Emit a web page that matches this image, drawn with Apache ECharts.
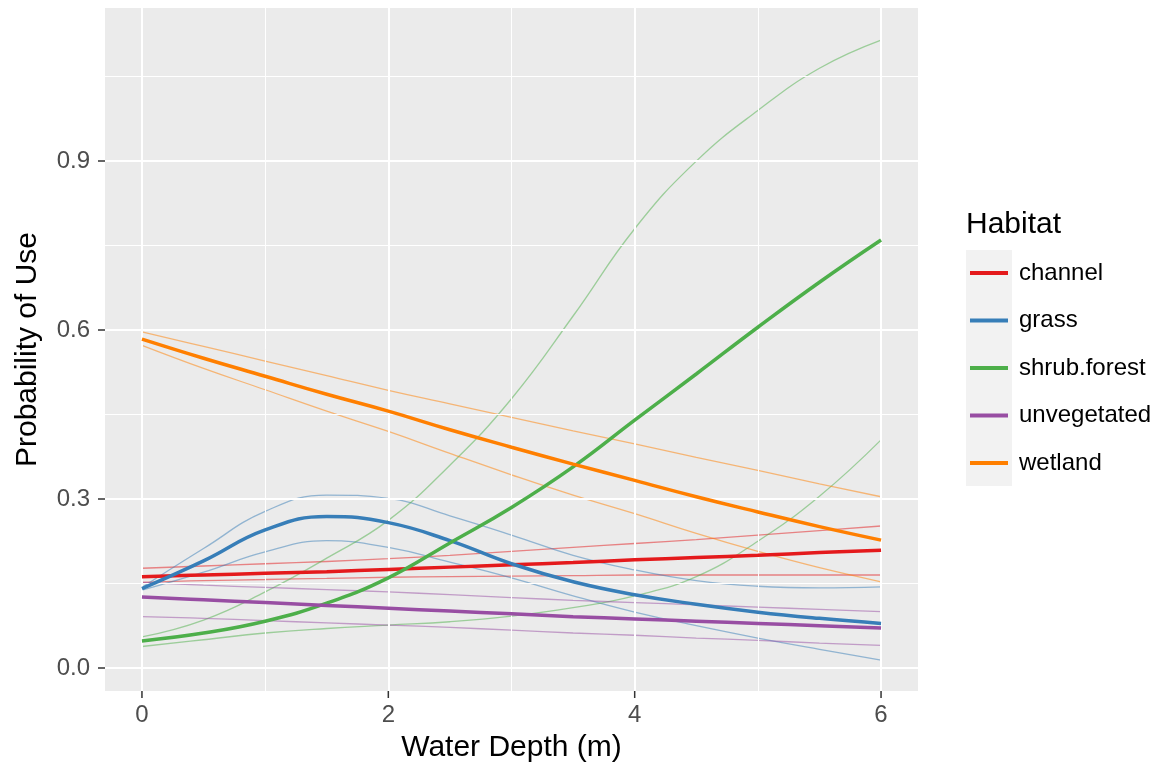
<!DOCTYPE html>
<html>
<head>
<meta charset="utf-8">
<script src="https://cdn.jsdelivr.net/npm/echarts@6/dist/echarts.min.js"></script>
<style>html,body{margin:0;padding:0;background:#fff}#c{width:1157px;height:769px}</style>
</head>
<body>
<div id="c"></div>
<script>
// ---- data ----
const depth = [0,0.5,1,1.5,2,2.5,3,3.5,4,4.5,5,5.5,6];
const habitats = ['channel','grass','shrub.forest','unvegetated','wetland'];
const colors = ['#E41A1C','#377EB8','#4DAF4A','#984EA3','#FF7F00'];

const channelFit   = [0.162,0.165,0.168,0.171,0.175,0.179,0.183,0.187,0.192,0.196,0.200,0.205,0.209];
const channelUpper = [0.177,0.181,0.185,0.189,0.194,0.200,0.207,0.214,0.221,0.228,0.236,0.244,0.252];
const channelLower = [0.152,0.155,0.157,0.159,0.161,0.162,0.163,0.164,0.165,0.165,0.165,0.165,0.165];

const grassFit   = [0.141,0.190,0.245,0.269,0.258,0.226,0.185,0.153,0.130,0.113,0.099,0.088,0.079];
const grassUpper = [0.143,0.212,0.278,0.307,0.301,0.270,0.236,0.200,0.174,0.155,0.145,0.142,0.144];
const grassLower = [0.138,0.170,0.206,0.226,0.214,0.188,0.160,0.128,0.099,0.075,0.053,0.033,0.014];

const shrubFit   = [0.048,0.062,0.083,0.115,0.160,0.222,0.285,0.357,0.440,0.522,0.605,0.685,0.760];
const shrubUpper = [0.055,0.085,0.135,0.195,0.262,0.360,0.478,0.625,0.780,0.900,0.990,1.065,1.115];
const shrubLower = [0.038,0.050,0.062,0.070,0.076,0.082,0.092,0.107,0.128,0.162,0.225,0.305,0.405];

const unvegFit   = [0.126,0.121,0.116,0.111,0.106,0.101,0.096,0.091,0.087,0.083,0.079,0.075,0.071];
const unvegUpper = [0.152,0.147,0.143,0.139,0.135,0.130,0.125,0.120,0.116,0.112,0.108,0.104,0.100];
const unvegLower = [0.091,0.088,0.084,0.080,0.076,0.072,0.067,0.062,0.058,0.053,0.049,0.044,0.040];

const wetlandFit   = [0.584,0.550,0.518,0.486,0.456,0.423,0.392,0.362,0.333,0.304,0.277,0.251,0.227];
const wetlandUpper = [0.597,0.571,0.545,0.519,0.493,0.469,0.445,0.421,0.398,0.374,0.351,0.327,0.304];
const wetlandLower = [0.573,0.532,0.494,0.456,0.420,0.381,0.343,0.307,0.274,0.239,0.207,0.178,0.153];

const xTicks = [0,2,4,6];
const yTicks = [0,0.3,0.6,0.9];
const xMinor = [1,3,5];
const yMinor = [0.15,0.45,0.75,1.05];

const fits   = [channelFit, grassFit, shrubFit, unvegFit, wetlandFit];
const uppers = [channelUpper, grassUpper, shrubUpper, unvegUpper, wetlandUpper];
const lowers = [channelLower, grassLower, shrubLower, unvegLower, wetlandLower];

// ---- build ----
const X_MIN = -0.3, X_MAX = 6.3, Y_MIN = -0.041, Y_MAX = 1.172;
const pairs = arr => depth.map((x,i)=>[x,arr[i]]);
const FONT = '"Liberation Sans", Arial, sans-serif';

const series = [];
const gl = (v, axis, w) => ({[axis]: v, lineStyle:{color:'#FFFFFF', width:w, type:'solid'}});
series.push({
  type:'line', name:'_grid', data:[], silent:true, z:1,
  markLine:{
    silent:true, symbol:['none','none'], label:{show:false}, animation:false,
    data:[
      ...xMinor.map(v=>gl(v,'xAxis',1)), ...yMinor.map(v=>gl(v,'yAxis',1)),
      ...xTicks.map(v=>gl(v,'xAxis',2)), ...yTicks.map(v=>gl(v,'yAxis',2))
    ]
  }
});
habitats.forEach((h,i)=>{
  [uppers[i], lowers[i]].forEach((arr,k)=>{
    series.push({
      type:'line', name:h+(k?'_lo':'_hi'), data:pairs(arr), smooth:0.45,
      showSymbol:false, symbol:'none', silent:true, z:3,
      lineStyle:{color:colors[i], width:1.3, opacity:0.5}
    });
  });
});
habitats.forEach((h,i)=>{
  series.push({
    type:'line', name:h, data:pairs(fits[i]), smooth:0.45,
    showSymbol:false, symbol:'none', z:5+i, color:colors[i],
    lineStyle:{color:colors[i], width:3.5}
  });
});

const chart = echarts.init(document.getElementById('c'), null, {renderer:'canvas'});
chart.setOption({
  animation:false,
  backgroundColor:'#FFFFFF',
  title:{text:'Habitat', left:966, top:210, padding:0, textStyle:{fontFamily:FONT, fontSize:30, fontWeight:'normal', color:'#000'}},
  grid:{left:105, right:239, top:8, bottom:78, show:true, backgroundColor:'#EBEBEB', borderWidth:0},
  xAxis:{
    type:'value', min:X_MIN, max:X_MAX, position:'bottom',
    name:'Water Depth (m)', nameLocation:'middle', nameGap:42,
    nameTextStyle:{fontFamily:FONT, fontSize:30, color:'#000'},
    axisLine:{show:true, onZero:false, lineStyle:{color:'rgba(0,0,0,0)'}},
    axisTick:{show:false},
    axisLabel:{customValues:xTicks, margin:12, fontFamily:FONT, fontSize:24, color:'#4D4D4D', formatter:v=>String(v)},
    splitLine:{show:false}
  },
  yAxis:{
    type:'value', min:Y_MIN, max:Y_MAX, position:'left',
    name:'Probability of Use', nameLocation:'middle', nameGap:62, nameRotate:90,
    nameTextStyle:{fontFamily:FONT, fontSize:30, color:'#000'},
    axisLine:{show:true, onZero:false, lineStyle:{color:'rgba(0,0,0,0)'}},
    axisTick:{show:true, inside:false, length:7, customValues:yTicks, lineStyle:{color:'#333333', width:1.5}},
    axisLabel:{customValues:yTicks, margin:15, fontFamily:FONT, fontSize:24, color:'#4D4D4D', formatter:v=>v.toFixed(1)},
    splitLine:{show:false}
  },
  legend:{
    data:habitats, orient:'vertical', left:970, top:261, padding:0,
    icon:'rect', itemWidth:38, itemHeight:4, itemGap:23.5,
    textStyle:{fontFamily:FONT, fontSize:24, color:'#000', lineHeight:24, padding:[0,0,0,6]},
    selectedMode:false
  },
  graphic:{elements:[
    {type:'rect', left:966, top:250, shape:{width:46, height:236}, style:{fill:'#F2F2F2'}, z:-1, silent:true}
  ]},
  series
});

// x-axis tick marks, positioned through the chart's own x scale
const yBottom = chart.convertToPixel({yAxisIndex:0}, Y_MIN);
const tickEls = xTicks.map((v,i)=>{
  const px = chart.convertToPixel({xAxisIndex:0}, v);
  return {type:'rect', id:'xt'+i, silent:true, z:100,
    shape:{x:px-0.75, y:yBottom, width:1.5, height:7},
    style:{fill:'#333333'}};
});
chart.setOption({graphic:{elements:tickEls}});
</script>
</body>
</html>
